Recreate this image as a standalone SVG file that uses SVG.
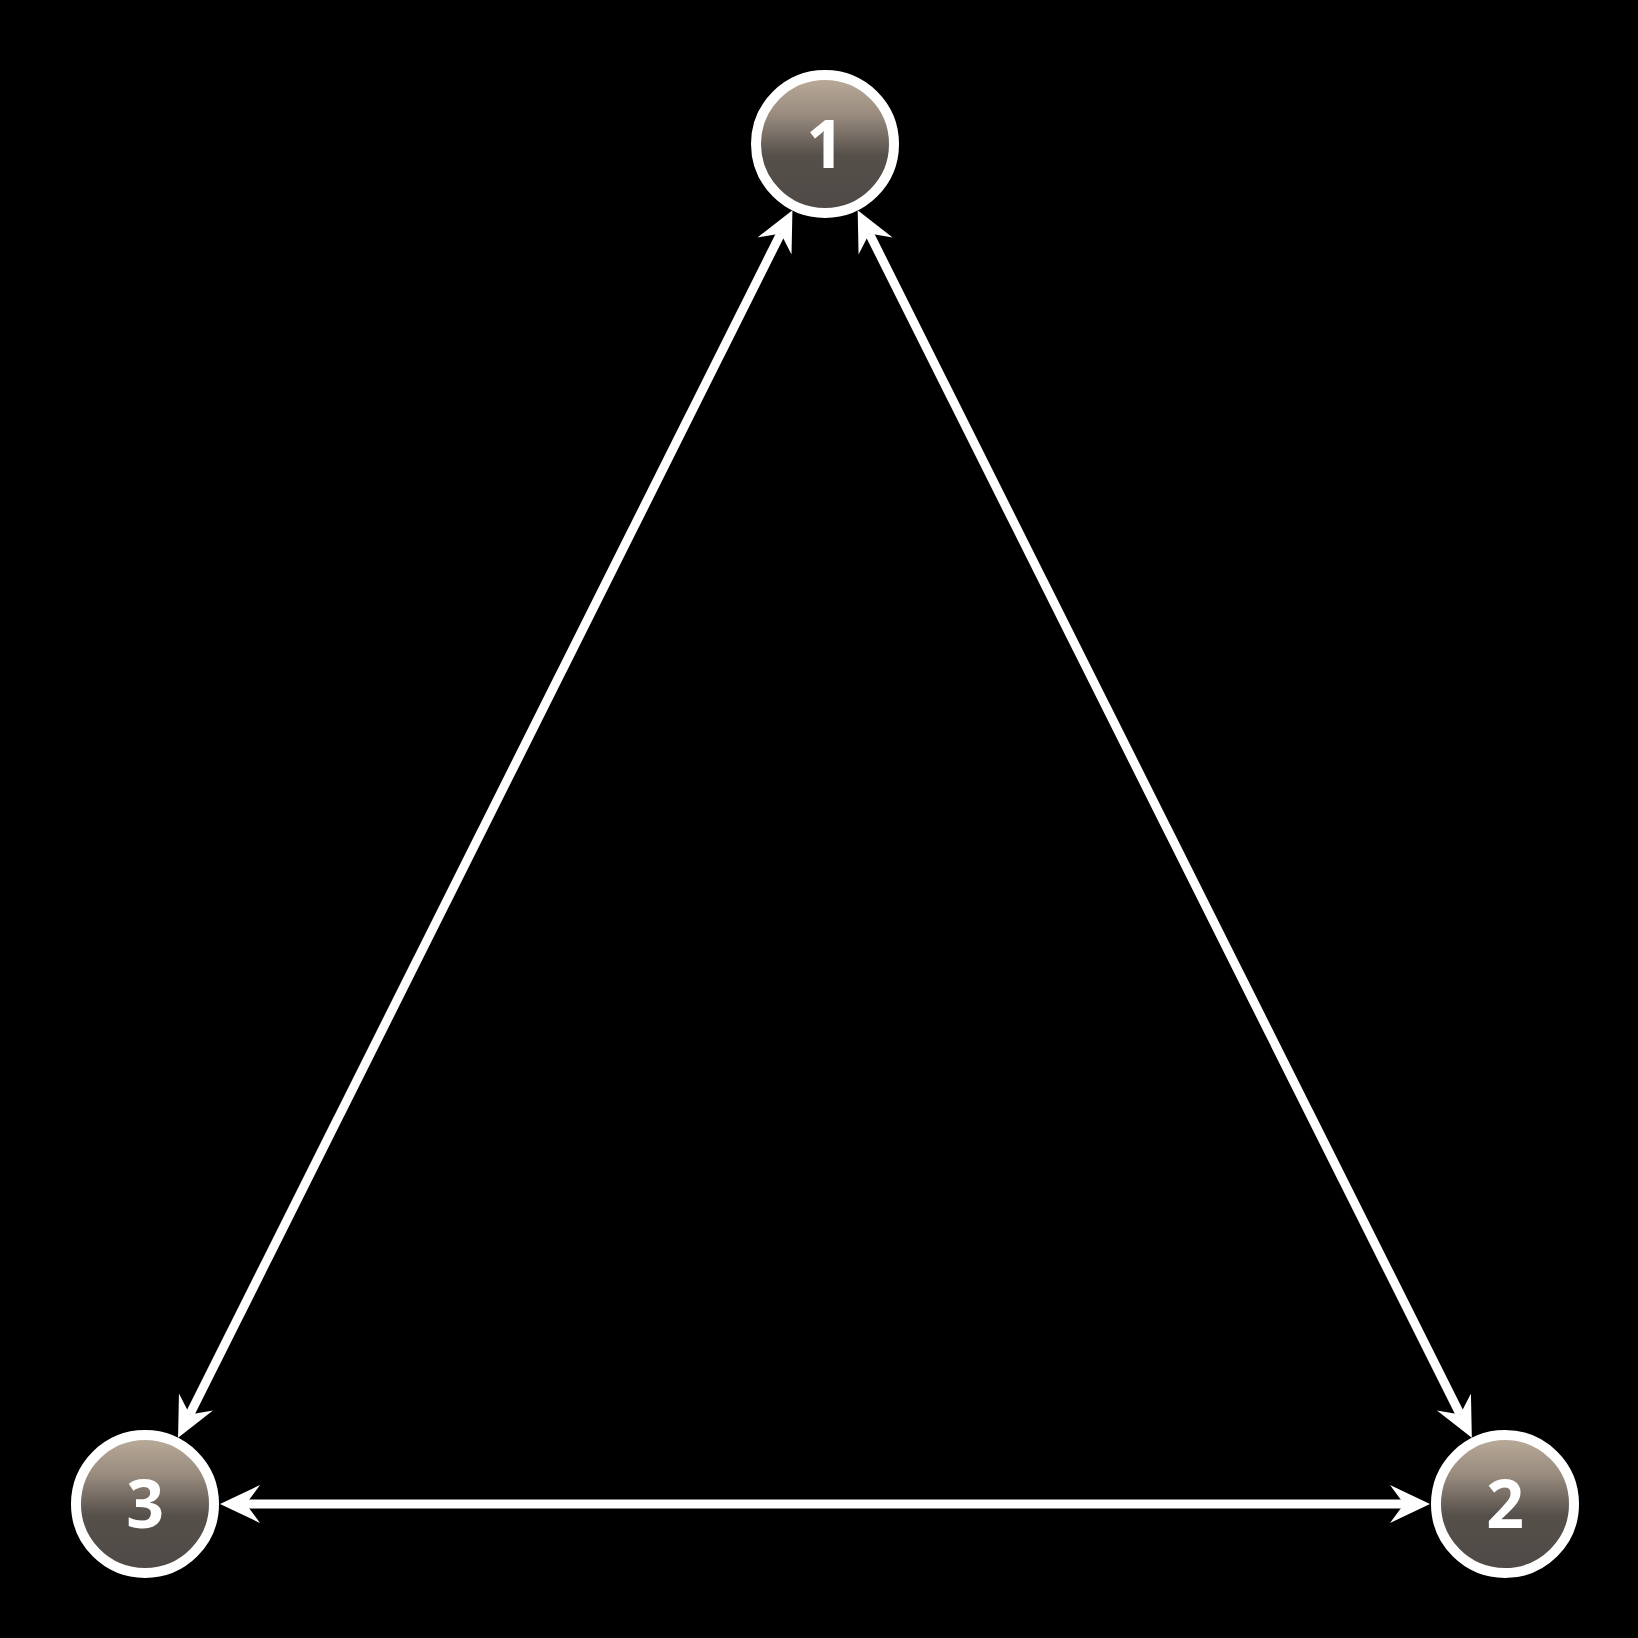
<svg xmlns="http://www.w3.org/2000/svg" width="1638" height="1638" viewBox="0 0 1638 1638">
  <defs>
    <linearGradient id="nodeFill" x1="0" y1="0" x2="0" y2="1">
      <stop offset="0" stop-color="#bcad9a"/>
      <stop offset="0.3" stop-color="#978a7d"/>
      <stop offset="0.58" stop-color="#56504b"/>
      <stop offset="1" stop-color="#4e4945"/>
    </linearGradient>
    <marker id="arrow" viewBox="0 0 44 44" markerUnits="userSpaceOnUse" markerWidth="44" markerHeight="44" refX="14" refY="22" orient="auto-start-reverse">
      <path d="M40,22 L0,3 L14,22 L0,41 Z" fill="#ffffff"/>
    </marker>
    <style>
      .node circle { fill: url(#nodeFill); stroke: #ffffff; stroke-width: 10; }
      .node text { font-family: "Open Sans", "Liberation Sans", sans-serif; font-weight: 700; font-size: 66px; fill: #ffffff; text-anchor: middle; }
      .edge { stroke: #ffffff; stroke-width: 9; fill: none; marker-start: url(#arrow); marker-end: url(#arrow); }
    </style>
  </defs>
  <rect x="0" y="0" width="1638" height="1638" fill="#000000"/>
  <g id="connectors">
    <path class="edge" d="M780.8,233.4 L189.7,1414.6"/>
    <path class="edge" d="M869.3,233.6 L1460.2,1414.4"/>
    <path class="edge" d="M246,1504 L1404,1504"/>
  </g>
  <g id="node1" class="node">
    <circle cx="825" cy="144" r="69"/>
    <text x="825" y="168">1</text>
  </g>
  <g id="node2" class="node">
    <circle cx="1505" cy="1504" r="69"/>
    <text x="1505" y="1528">2</text>
  </g>
  <g id="node3" class="node">
    <circle cx="145" cy="1504" r="69"/>
    <text x="145" y="1528">3</text>
  </g>
</svg>
